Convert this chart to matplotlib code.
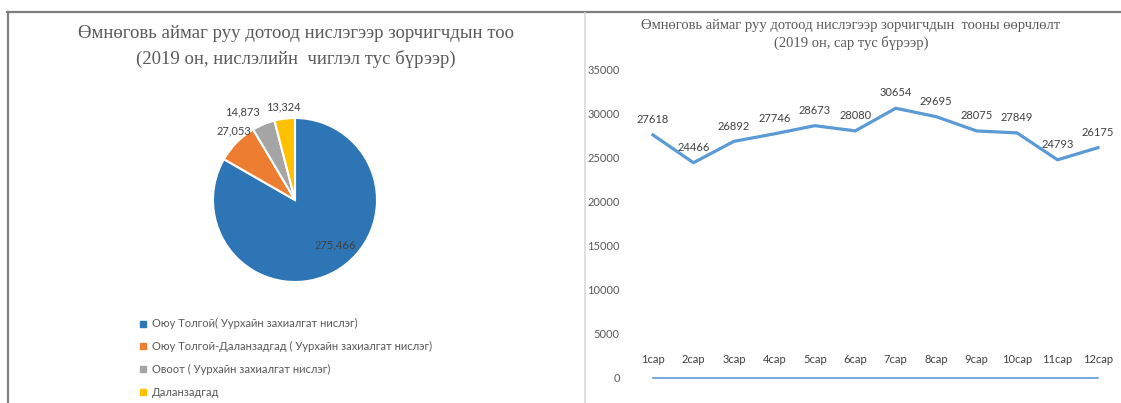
import matplotlib
matplotlib.use("Agg")
import matplotlib.pyplot as plt
from matplotlib.lines import Line2D
import numpy as np

# pie data
routes = ['Оюу Толгой( Уурхайн захиалгат нислэг)',
          'Оюу Толгой-Даланзадгад ( Уурхайн захиалгат нислэг)',
          'Овоот ( Уурхайн захиалгат нислэг)',
          'Даланзадгад']
passengers = [275466, 27053, 14873, 13324]
pie_colors = ['#2E75B6', '#ED7D31', '#A5A5A5', '#FFC000']

# line data
months = ['1сар', '2сар', '3сар', '4сар', '5сар', '6сар',
          '7сар', '8сар', '9сар', '10сар', '11сар', '12сар']
monthly = [27618, 24466, 26892, 27746, 28673, 28080,
           30654, 29695, 28075, 27849, 24793, 26175]
baseline = [0, 0, 0, 0, 0, 0, 0, 0, 0, 0, 0, 0]
yticks = [0, 5000, 10000, 15000, 20000, 25000, 30000, 35000]

W, H = 1121, 403
SERIF = ['Liberation Serif', 'DejaVu Serif']
SANS = ['Lato', 'DejaVu Sans']
GREY = '#595959'
DARK = '#404040'

fig = plt.figure(figsize=(W / 100, H / 100), dpi=100)

def px(x0, y0, x1, y1):
    # pixel box (from top-left) -> figure fraction rect
    return [x0 / W, 1 - y1 / H, (x1 - x0) / W, (y1 - y0) / H]

# frame lines
fig.add_artist(Line2D([7 / W, 1], [1 - 12 / H] * 2, color='#7f7f7f', lw=1.6))
fig.add_artist(Line2D([8 / W] * 2, [0, 1 - 12 / H], color='#7f7f7f', lw=1.6))
fig.add_artist(Line2D([585 / W] * 2, [0, 1 - 13 / H], color='#d9d9d9', lw=1.2))

# ---- left: pie ----
fig.text(296 / W, 1 - 34 / H, 'Өмнөговь аймаг руу дотоод нислэгээр зорчигчдын тоо',
         ha='center', va='center', fontsize=13.5, color=GREY, family=SERIF)
fig.text(296 / W, 1 - 59 / H, '(2019 он, нислэлийн  чиглэл тус бүрээр)',
         ha='center', va='center', fontsize=13.5, color=GREY, family=SERIF)

ax1 = fig.add_axes(px(213, 118, 377, 282))
wedges, _ = ax1.pie(passengers, colors=pie_colors, startangle=90, counterclock=False,
                    wedgeprops=dict(edgecolor='white', linewidth=1.5))
ax1.set_xlim(-1, 1)
ax1.set_ylim(-1, 1)
ax1.set_aspect('equal')

label_dist = [0.74, 1.12, 1.25, 1.14]
label_shift = [12, -4, 8, 0]
for w, val, d, s in zip(wedges, passengers, label_dist, label_shift):
    ang = np.deg2rad((w.theta1 + w.theta2) / 2 + s)
    ax1.text(d * np.cos(ang), d * np.sin(ang), f'{val:,}', ha='center', va='center',
             fontsize=8, color=DARK, family=SANS)

handles = [Line2D([], [], ls='none', marker='s', markersize=4, color=c) for c in pie_colors]
fig.legend(handles, routes, loc='upper left', bbox_to_anchor=(134 / W, 1 - 314 / H),
           frameon=False, labelcolor=GREY, handlelength=0.8,
           handletextpad=0.4, labelspacing=1.05, borderaxespad=0,
           prop=dict(family=SANS, size=8))

# ---- right: line ----
fig.text(851 / W, 1 - 25 / H, 'Өмнөговь аймаг руу дотоод нислэгээр зорчигчдын  тооны өөрчлөлт',
         ha='center', va='center', fontsize=10.5, color=GREY, family=SERIF)
fig.text(851 / W, 1 - 43 / H, '(2019 он, сар тус бүрээр)',
         ha='center', va='center', fontsize=10.5, color=GREY, family=SERIF)

ax2 = fig.add_axes(px(653, 70, 1098, 378))
x = np.arange(len(months))
ax2.plot(x, monthly, color='#5B9BD5', lw=2.3, solid_joinstyle='round', clip_on=False)
ax2.plot(x, baseline, color='#5B9BD5', lw=1.2, clip_on=False)
for xi, v in zip(x, monthly):
    ax2.annotate(str(v), (xi, v), xytext=(0, 11), textcoords='offset points',
                 ha='center', va='center', fontsize=8, color=DARK, family=SANS)
for xi, m in zip(x, months):
    ax2.annotate(m, (xi, 0), xytext=(0, 13), textcoords='offset points',
                 ha='center', va='center', fontsize=8, color=DARK, family=SANS)
ax2.set_xlim(0, 11)
ax2.set_ylim(0, 35000)
ax2.set_xticks([])
ax2.set_yticks(yticks)
ax2.set_yticklabels([str(t) for t in yticks], family=SANS)
ax2.tick_params(axis='y', length=0, pad=24, labelsize=8, labelcolor=GREY)
for sp in ax2.spines.values():
    sp.set_visible(False)
ax2.patch.set_visible(False)

fig.savefig('out.png', dpi=100)
